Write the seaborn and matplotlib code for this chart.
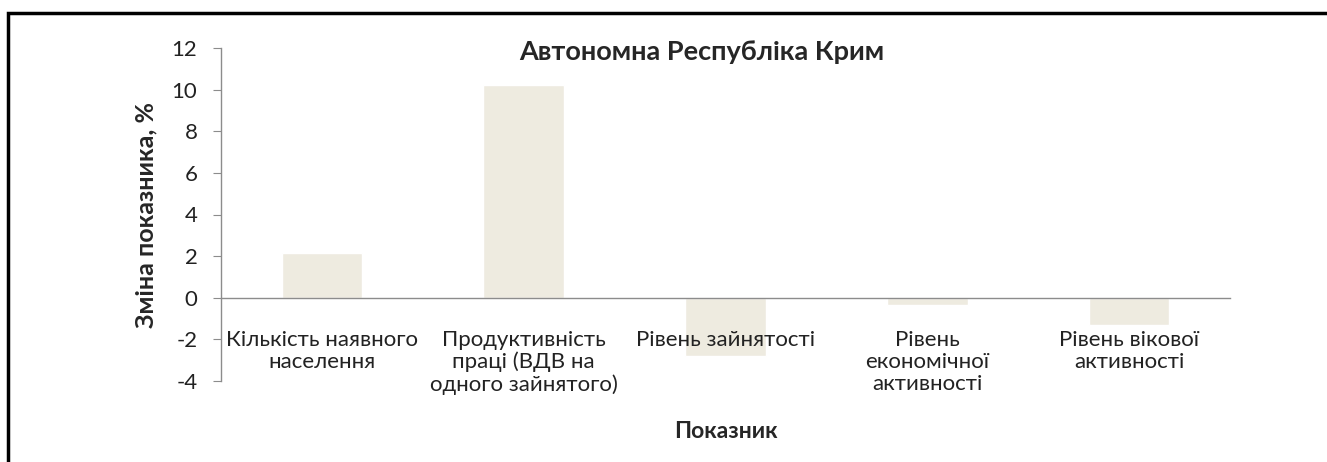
import matplotlib
matplotlib.use("Agg")
import matplotlib.pyplot as plt
import matplotlib.patches as mpatches
import seaborn as sns
import pandas as pd

# Data
categories = [
    "Кількість наявного\nнаселення",
    "Продуктивність\nпраці (ВДВ на\nодного зайнятого)",
    "Рівень зайнятості",
    "Рівень\nекономічної\nактивності",
    "Рівень вікової\nактивності",
]
values = [2.16, 10.23, -2.8, -0.34, -1.32]
y_ticks = [-4, -2, 0, 2, 4, 6, 8, 10, 12]

title = "Автономна Республіка Крим"
x_label = "Показник"
y_label = "Зміна показника, %"

sns.set_style("white")
plt.rcParams["font.family"] = ["Lato", "Noto Sans", "DejaVu Sans"]

df = pd.DataFrame({"cat": categories, "val": values})

fig = plt.figure(figsize=(13.27, 4.62), dpi=100)
ax = fig.add_axes([221 / 1327, 81 / 462, 1009 / 1327, 333 / 462])

sns.barplot(data=df, x="cat", y="val", color="#EEEBE0", saturation=1,
            width=0.40, ax=ax, zorder=1)

ax.set_axisbelow(False)
ax.xaxis.set_zorder(5)
ax.yaxis.set_zorder(5)

ax.set_ylim(-4, 12)
ax.set_xlim(-0.5, len(categories) - 0.5)
ax.set_yticks(y_ticks)
ax.set_yticklabels([str(t) for t in y_ticks], fontsize=16, color="#222222")

# x axis sits on zero line, ticks between categories
ax.spines["bottom"].set_position(("data", 0))
ax.spines["top"].set_visible(False)
ax.spines["right"].set_visible(False)
for s in ["left", "bottom"]:
    ax.spines[s].set_color("#8c8c8c")
    ax.spines[s].set_linewidth(1)
    ax.spines[s].set_zorder(5)

ax.set_xticks(range(len(categories)))
ax.set_xticklabels(categories, fontsize=16, color="#222222", linespacing=1.12,
                   va="top")
ax.tick_params(axis="x", which="major", length=0, pad=23)
ax.set_xticks([i - 0.5 for i in range(len(categories) + 1)], minor=True)
ax.tick_params(axis="x", which="minor", length=6, color="#8c8c8c", direction="out")
ax.tick_params(axis="y", length=6, color="#8c8c8c", direction="out", left=True, pad=11)

ax.set_xlabel("")
ax.set_ylabel(y_label, fontsize=18, fontweight="bold")
ax.yaxis.set_label_coords(-0.063, 0.50)

fig.text(0.547, 0.065, x_label, ha="center", va="center",
         fontsize=16.5, fontweight="bold")
fig.text(0.529, 0.888, title, ha="center", va="center", fontsize=19.5,
         fontweight="bold")

# cropped chart frame
frame = mpatches.Rectangle((8 / 1327, -0.1), 1.2, 0.1 + 1 - 13 / 462,
                           transform=fig.transFigure, fill=False,
                           edgecolor="black", linewidth=2.5)
fig.patches.append(frame)

fig.savefig("out.png", dpi=100)
